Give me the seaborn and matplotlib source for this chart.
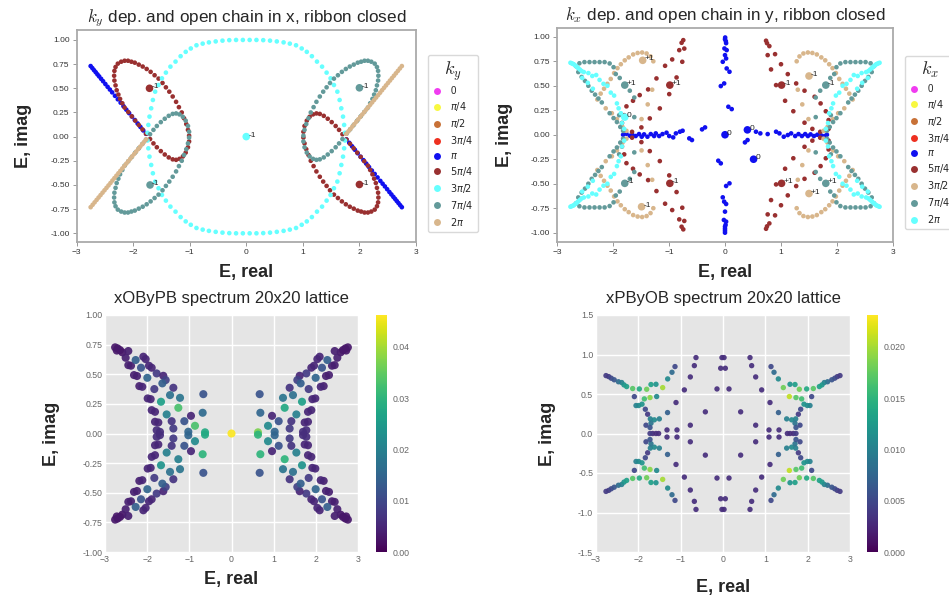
import numpy as np
import pandas as pd
import matplotlib
matplotlib.use("Agg")
import matplotlib.pyplot as plt
from matplotlib.lines import Line2D
from matplotlib.ticker import FormatStrFormatter, MultipleLocator
import seaborn as sns

sns.set_theme(style="white")
plt.rcParams["font.family"] = ["Liberation Sans", "DejaVu Sans"]
plt.rcParams["mathtext.fontset"] = "dejavusans"

# ---------------------------------------------------------------- labels
K_LABELS = ["0", r"$\pi/4$", r"$\pi/2$", r"$3\pi/4$", r"$\pi$",
            r"$5\pi/4$", r"$3\pi/2$", r"$7\pi/4$", r"$2\pi$"]
KY_COLORS = ["#f03cf0", "#f8f840", "#c87137", "#ee3020", "#1010f0",
             "#993030", "#66ffff", "#639a9a", "#d8b68c"]
KX_COLORS = ["#f03cf0", "#f8f840", "#c87137", "#ee3020", "#1010f0",
             "#993030", "#d8b68c", "#639a9a", "#66ffff"]

# ------------------------------------------- ky spectrum, open chain in x
TL_PI = [(-2.75, 0.730), (-2.72, 0.709), (-2.69, 0.687), (-2.66, 0.666), (-2.63, 0.644),
         (-2.60, 0.623), (-2.565, 0.598), (-2.53, 0.573), (-2.49, 0.544), (-2.45, 0.515),
         (-2.41, 0.487), (-2.37, 0.458), (-2.32, 0.422), (-2.27, 0.386), (-2.22, 0.351),
         (-2.17, 0.315), (-2.12, 0.279), (-2.07, 0.243), (-2.02, 0.208), (-1.97, 0.172),
         (-1.92, 0.136), (-1.87, 0.100), (-1.82, 0.064), (-1.77, 0.029),
         (1.77, -0.029), (1.82, -0.064), (1.87, -0.100), (1.92, -0.136), (1.97, -0.172),
         (2.02, -0.208), (2.07, -0.243), (2.12, -0.279), (2.17, -0.315), (2.22, -0.351),
         (2.27, -0.386), (2.32, -0.422), (2.37, -0.458), (2.41, -0.487), (2.45, -0.515),
         (2.49, -0.544), (2.53, -0.573), (2.565, -0.598), (2.60, -0.623), (2.63, -0.644),
         (2.66, -0.666), (2.69, -0.687), (2.72, -0.709), (2.75, -0.730)]

TL_2PI = [(-2.75, -0.730), (-2.715, -0.705), (-2.68, -0.680), (-2.645, -0.655), (-2.61, -0.630),
          (-2.575, -0.605), (-2.54, -0.580), (-2.505, -0.555), (-2.47, -0.530), (-2.435, -0.505),
          (-2.40, -0.480), (-2.365, -0.454), (-2.33, -0.429), (-2.295, -0.404), (-2.26, -0.379),
          (-2.225, -0.354), (-2.19, -0.329), (-2.155, -0.304), (-2.12, -0.279), (-2.085, -0.254),
          (-2.05, -0.229), (-2.015, -0.204), (-1.98, -0.179), (-1.945, -0.154), (-1.91, -0.129),
          (-1.875, -0.104), (-1.84, -0.079), (-1.805, -0.054), (-1.77, -0.029),
          (1.77, 0.029), (1.805, 0.054), (1.84, 0.079), (1.875, 0.104), (1.91, 0.129),
          (1.945, 0.154), (1.98, 0.179), (2.015, 0.204), (2.05, 0.229), (2.085, 0.254),
          (2.12, 0.279), (2.155, 0.304), (2.19, 0.329), (2.225, 0.354), (2.26, 0.379),
          (2.295, 0.404), (2.33, 0.429), (2.365, 0.454), (2.40, 0.480), (2.435, 0.505),
          (2.47, 0.530), (2.505, 0.555), (2.54, 0.580), (2.575, 0.605), (2.61, 0.630),
          (2.645, 0.655), (2.68, 0.680), (2.715, 0.705), (2.75, 0.730)]

TL_5PI4 = [(-1.772, 0.03), (-1.835, 0.075), (-1.898, 0.12), (-1.961, 0.165), (-2.023, 0.21),
           (-2.086, 0.255), (-2.149, 0.30), (-2.19, 0.345), (-2.23, 0.39), (-2.26, 0.435),
           (-2.29, 0.48), (-2.31, 0.53), (-2.33, 0.58), (-2.335, 0.63), (-2.33, 0.68),
           (-2.31, 0.72), (-2.27, 0.755), (-2.21, 0.775), (-2.15, 0.785), (-2.09, 0.785),
           (-2.03, 0.775), (-1.97, 0.765), (-1.90, 0.745), (-1.83, 0.725), (-1.76, 0.70),
           (-1.69, 0.67), (-1.62, 0.635), (-1.55, 0.60), (-1.48, 0.555), (-1.42, 0.51),
           (-1.36, 0.465), (-1.30, 0.415), (-1.24, 0.36), (-1.19, 0.305), (-1.14, 0.25),
           (-1.10, 0.19), (-1.06, 0.13), (-1.03, 0.07), (-1.01, 0.01), (-1.01, -0.05),
           (-1.03, -0.11), (-1.07, -0.165), (-1.12, -0.205), (-1.18, -0.23), (-1.24, -0.24),
           (-1.30, -0.235), (-1.37, -0.215), (-1.44, -0.185), (-1.51, -0.15), (-1.58, -0.11),
           (-1.64, -0.07), (-1.70, -0.025),
           (1.772, -0.03), (1.835, -0.075), (1.898, -0.12), (1.961, -0.165), (2.023, -0.21),
           (2.086, -0.255), (2.149, -0.30), (2.19, -0.345), (2.23, -0.39), (2.26, -0.435),
           (2.29, -0.48), (2.31, -0.53), (2.33, -0.58), (2.335, -0.63), (2.33, -0.68),
           (2.31, -0.72), (2.27, -0.755), (2.21, -0.775), (2.15, -0.785), (2.09, -0.785),
           (2.03, -0.775), (1.97, -0.765), (1.90, -0.745), (1.83, -0.725), (1.76, -0.70),
           (1.69, -0.67), (1.62, -0.635), (1.55, -0.60), (1.48, -0.555), (1.42, -0.51),
           (1.36, -0.465), (1.30, -0.415), (1.24, -0.36), (1.19, -0.305), (1.14, -0.25),
           (1.10, -0.19), (1.06, -0.13), (1.03, -0.07), (1.01, -0.01), (1.01, 0.05),
           (1.03, 0.11), (1.07, 0.165), (1.12, 0.205), (1.18, 0.23), (1.24, 0.24),
           (1.30, 0.235), (1.37, 0.215), (1.44, 0.185), (1.51, 0.15), (1.58, 0.11),
           (1.64, 0.07), (1.70, 0.025)]

TL_7PI4 = [(-1.772, -0.03), (-1.835, -0.075), (-1.898, -0.12), (-1.961, -0.165), (-2.023, -0.21),
           (-2.086, -0.255), (-2.149, -0.30), (-2.19, -0.345), (-2.23, -0.39), (-2.26, -0.435),
           (-2.29, -0.48), (-2.31, -0.53), (-2.33, -0.58), (-2.335, -0.63), (-2.33, -0.68),
           (-2.31, -0.72), (-2.27, -0.755), (-2.21, -0.775), (-2.15, -0.785), (-2.09, -0.785),
           (-2.03, -0.775), (-1.97, -0.765), (-1.90, -0.745), (-1.83, -0.725), (-1.76, -0.70),
           (-1.69, -0.67), (-1.62, -0.635), (-1.55, -0.60), (-1.48, -0.555), (-1.42, -0.51),
           (-1.36, -0.465), (-1.30, -0.415), (-1.24, -0.36), (-1.19, -0.305), (-1.14, -0.25),
           (-1.10, -0.19), (-1.06, -0.13), (-1.03, -0.07), (-1.01, -0.01), (-1.01, 0.05),
           (-1.03, 0.11), (-1.07, 0.165), (-1.12, 0.205), (-1.18, 0.23), (-1.24, 0.24),
           (-1.30, 0.235), (-1.37, 0.215), (-1.44, 0.185), (-1.51, 0.15), (-1.58, 0.11),
           (-1.64, 0.07), (-1.70, 0.025),
           (1.772, 0.03), (1.835, 0.075), (1.898, 0.12), (1.961, 0.165), (2.023, 0.21),
           (2.086, 0.255), (2.149, 0.30), (2.19, 0.345), (2.23, 0.39), (2.26, 0.435),
           (2.29, 0.48), (2.31, 0.53), (2.33, 0.58), (2.335, 0.63), (2.33, 0.68),
           (2.31, 0.72), (2.27, 0.755), (2.21, 0.775), (2.15, 0.785), (2.09, 0.785),
           (2.03, 0.775), (1.97, 0.765), (1.90, 0.745), (1.83, 0.725), (1.76, 0.70),
           (1.69, 0.67), (1.62, 0.635), (1.55, 0.60), (1.48, 0.555), (1.42, 0.51),
           (1.36, 0.465), (1.30, 0.415), (1.24, 0.36), (1.19, 0.305), (1.14, 0.25),
           (1.10, 0.19), (1.06, 0.13), (1.03, 0.07), (1.01, 0.01), (1.01, -0.05),
           (1.03, -0.11), (1.07, -0.165), (1.12, -0.205), (1.18, -0.23), (1.24, -0.24),
           (1.30, -0.235), (1.37, -0.215), (1.44, -0.185), (1.51, -0.15), (1.58, -0.11),
           (1.64, -0.07), (1.70, -0.025)]

TL_3PI2 = [(0.06, 1.0), (0.18, 1.0), (0.30, 0.998), (0.42, 0.993), (0.54, 0.985), (0.66, 0.975),
           (0.77, 0.962), (0.88, 0.945), (0.98, 0.912), (1.07, 0.877), (1.16, 0.832), (1.25, 0.776),
           (1.34, 0.724), (1.42, 0.662), (1.49, 0.603), (1.55, 0.534), (1.61, 0.465), (1.65, 0.379),
           (1.68, 0.293), (1.71, 0.207), (1.73, 0.121), (1.745, 0.04),
           (1.745, -0.04), (1.73, -0.121), (1.71, -0.207), (1.68, -0.293), (1.65, -0.379),
           (1.61, -0.465), (1.55, -0.534), (1.49, -0.603), (1.42, -0.662), (1.34, -0.724),
           (1.25, -0.776), (1.16, -0.832), (1.07, -0.877), (0.98, -0.912), (0.88, -0.945),
           (0.77, -0.962), (0.66, -0.975), (0.54, -0.985), (0.42, -0.993), (0.30, -0.998),
           (0.18, -1.0), (0.06, -1.0),
           (-0.06, -1.0), (-0.18, -1.0), (-0.30, -0.998), (-0.42, -0.993), (-0.54, -0.985),
           (-0.66, -0.975), (-0.77, -0.962), (-0.88, -0.945), (-0.98, -0.912), (-1.07, -0.877),
           (-1.16, -0.832), (-1.25, -0.776), (-1.34, -0.724), (-1.42, -0.662), (-1.49, -0.603),
           (-1.55, -0.534), (-1.61, -0.465), (-1.65, -0.379), (-1.68, -0.293), (-1.71, -0.207),
           (-1.73, -0.121), (-1.745, -0.04),
           (-1.745, 0.04), (-1.73, 0.121), (-1.71, 0.207), (-1.68, 0.293), (-1.65, 0.379),
           (-1.61, 0.465), (-1.55, 0.534), (-1.49, 0.603), (-1.42, 0.662), (-1.34, 0.724),
           (-1.25, 0.776), (-1.16, 0.832), (-1.07, 0.877), (-0.98, 0.912), (-0.88, 0.945),
           (-0.77, 0.962), (-0.66, 0.975), (-0.54, 0.985), (-0.42, 0.993), (-0.30, 0.998),
           (-0.18, 1.0), (-0.06, 1.0)]

# winding-number markers (re, im, k, label)
TL_MARKS = [(-1.71, 0.50, r"$5\pi/4$", "-1"), (-1.70, -0.50, r"$7\pi/4$", "-1"),
            (0.0, 0.0, r"$3\pi/2$", "-1"), (2.0, 0.505, r"$7\pi/4$", "-1"),
            (2.0, -0.495, r"$5\pi/4$", "-1")]

# ------------------------------------------- kx spectrum, open chain in y
TR_PI = [(0.003, 0.993), (0.0, 0.975), (0.015, 0.955), (0.02, 0.935), (-0.01, 0.881),
         (0.03, 0.864), (0.0, 0.813), (0.02, 0.779), (-0.04, 0.745), (0.03, 0.677),
         (0.08, 0.643), (-0.015, 0.524), (-0.075, 0.497), (0.06, 0.286), (0.12, 0.262),
         (0.08, -0.496), (0.02, -0.523), (-0.04, -0.639), (-0.015, -0.683), (0.02, -0.707),
         (0.0, -0.785), (-0.02, -0.870), (0.02, -0.887), (0.01, -0.92), (0.0, -0.938),
         (0.0, -0.96), (0.0, -0.98), (0.0, -1.0), (-0.12, -0.265), (-0.075, -0.292),
         (-1.82, 0.0), (-1.76, 0.01), (-1.70, -0.01), (-1.655, 0.0), (-1.595, -0.013),
         (-1.535, 0.007), (-1.487, -0.02), (-1.445, 0.004), (-1.385, -0.02), (-1.326, 0.007),
         (-1.266, -0.013), (-1.236, 0.014), (-1.176, -0.013), (-1.116, 0.007), (-1.044, 0.021),
         (-0.996, -0.013), (-0.925, -0.027), (-0.877, 0.014), (-0.805, 0.031), (-0.757, 0.041),
         (-0.638, -0.037), (-0.590, -0.054), (-0.41, 0.055), (-0.356, 0.075),
         (0.553, 0.031), (0.631, 0.014), (0.762, 0.007), (0.912, 0.031), (0.972, 0.014),
         (1.049, -0.02), (1.121, -0.003), (1.181, 0.014), (1.253, -0.013), (1.313, 0.007),
         (1.373, -0.013), (1.432, 0.007), (1.480, -0.013), (1.528, 0.004), (1.588, -0.013),
         (1.648, 0.0), (1.719, -0.007), (1.779, -0.013), (1.82, 0.0), (0.356, -0.078),
         (0.403, -0.054)]

TR_5PI4 = [(-0.745, 0.966), (-0.775, 0.939), (-0.727, 0.88), (-0.817, 0.864), (-0.943, 0.769),
           (-1.07, 0.704), (-1.224, 0.575), (-1.373, 0.463), (-1.523, 0.405), (-1.643, 0.347),
           (-1.76, 0.29), (-1.80, 0.20), (-1.84, 0.12), (-0.763, 0.745), (-0.865, 0.585),
           (-0.996, 0.415), (-1.164, 0.269), (-1.343, 0.167), (-1.493, 0.075), (-1.66, 0.03),
           (-0.745, -0.966), (-0.775, -0.939), (-0.727, -0.88), (-0.817, -0.864), (-0.943, -0.769),
           (-1.07, -0.704), (-1.224, -0.575), (-1.373, -0.463), (-1.523, -0.405), (-1.643, -0.347),
           (-1.76, -0.29), (-1.80, -0.20), (-1.84, -0.12), (-0.763, -0.745), (-0.865, -0.585),
           (-0.996, -0.415), (-1.164, -0.269), (-1.343, -0.167), (-1.493, -0.075), (-1.66, -0.03),
           (0.733, 0.96), (0.792, 0.905), (0.894, 0.823), (1.0, 0.72), (1.121, 0.619),
           (1.271, 0.524), (1.42, 0.45), (1.60, 0.388), (1.707, 0.32), (1.80, 0.24),
           (1.85, 0.15), (1.85, 0.06), (0.75, 0.935), (0.762, 0.813), (0.822, 0.667),
           (0.912, 0.507), (1.073, 0.347), (1.22, 0.24), (1.42, 0.123), (1.56, 0.06), (1.70, 0.03),
           (0.733, -0.96), (0.792, -0.905), (0.894, -0.823), (1.0, -0.72), (1.121, -0.619),
           (1.271, -0.524), (1.42, -0.45), (1.60, -0.388), (1.707, -0.32), (1.80, -0.24),
           (1.85, -0.15), (1.85, -0.06), (0.75, -0.935), (0.762, -0.813), (0.822, -0.667),
           (0.912, -0.507), (1.073, -0.347), (1.22, -0.24), (1.42, -0.123), (1.56, -0.06),
           (1.70, -0.03)]

TR_3PI2 = [(-2.28, 0.36), (-2.22, 0.42), (-2.16, 0.47), (-2.10, 0.52), (-2.04, 0.57), (-1.98, 0.63),
           (-1.92, 0.68), (-1.86, 0.72), (-1.79, 0.76), (-1.72, 0.79), (-1.64, 0.82), (-1.56, 0.835),
           (-1.48, 0.84), (-1.40, 0.83), (-1.33, 0.80), (-1.28, 0.75), (-1.30, 0.46), (-1.38, 0.31),
           (-1.49, 0.16), (-2.13, 0.27), (-2.02, 0.22), (-1.93, 0.16), (-1.83, 0.08), (-1.76, 0.04),
           (-2.28, -0.36), (-2.22, -0.42), (-2.16, -0.47), (-2.10, -0.52), (-2.04, -0.57), (-1.98, -0.63),
           (-1.92, -0.68), (-1.86, -0.72), (-1.79, -0.76), (-1.72, -0.79), (-1.64, -0.82), (-1.56, -0.835),
           (-1.48, -0.84), (-1.40, -0.83), (-1.33, -0.80), (-1.28, -0.75), (-1.30, -0.46), (-1.38, -0.31),
           (-1.49, -0.16), (-2.13, -0.27), (-2.02, -0.22), (-1.93, -0.16), (-1.83, -0.08), (-1.76, -0.04),
           (2.28, 0.36), (2.22, 0.42), (2.16, 0.47), (2.10, 0.52), (2.04, 0.57), (1.98, 0.63),
           (1.92, 0.68), (1.86, 0.72), (1.79, 0.76), (1.72, 0.79), (1.64, 0.82), (1.56, 0.835),
           (1.48, 0.84), (1.40, 0.83), (1.33, 0.80), (1.28, 0.75), (1.30, 0.46), (1.38, 0.31),
           (1.49, 0.16), (2.13, 0.27), (2.02, 0.22), (1.93, 0.16), (1.83, 0.08), (1.76, 0.04),
           (2.28, -0.36), (2.22, -0.42), (2.16, -0.47), (2.10, -0.52), (2.04, -0.57), (1.98, -0.63),
           (1.92, -0.68), (1.86, -0.72), (1.79, -0.76), (1.72, -0.79), (1.64, -0.82), (1.56, -0.835),
           (1.48, -0.84), (1.40, -0.83), (1.33, -0.80), (1.28, -0.75), (1.30, -0.46), (1.38, -0.31),
           (1.49, -0.16), (2.13, -0.27), (2.02, -0.22), (1.93, -0.16), (1.83, -0.08), (1.76, -0.04)]

TR_7PI4 = [(-2.66, 0.70), (-2.60, 0.73), (-2.51, 0.742), (-2.42, 0.742), (-2.33, 0.742), (-2.24, 0.742),
           (-2.15, 0.742), (-2.06, 0.728), (-1.99, 0.69), (-1.95, 0.62), (-1.88, 0.58), (-1.70, 0.45),
           (-1.62, 0.38), (-1.62, 0.18), (-2.62, 0.64), (-2.56, 0.59), (-2.50, 0.55), (-2.44, 0.50),
           (-2.38, 0.45), (-2.32, 0.41), (-2.26, 0.37), (-2.20, 0.33), (-2.06, 0.22), (-1.99, 0.17),
           (-1.93, 0.13), (-1.87, 0.08), (-1.82, 0.04), (-1.89, 0.20),
           (-2.66, -0.70), (-2.60, -0.73), (-2.51, -0.742), (-2.42, -0.742), (-2.33, -0.742), (-2.24, -0.742),
           (-2.15, -0.742), (-2.06, -0.728), (-1.99, -0.69), (-1.95, -0.62), (-1.88, -0.58), (-1.70, -0.45),
           (-1.62, -0.38), (-1.62, -0.18), (-2.62, -0.64), (-2.56, -0.59), (-2.50, -0.55), (-2.44, -0.50),
           (-2.38, -0.45), (-2.32, -0.41), (-2.26, -0.37), (-2.20, -0.33), (-2.06, -0.22), (-1.99, -0.17),
           (-1.93, -0.13), (-1.87, -0.08), (-1.82, -0.04), (-1.89, -0.20),
           (2.66, 0.70), (2.60, 0.73), (2.51, 0.742), (2.42, 0.742), (2.33, 0.742), (2.24, 0.742),
           (2.15, 0.742), (2.06, 0.728), (1.99, 0.69), (1.95, 0.62), (1.88, 0.58), (1.70, 0.45),
           (1.62, 0.38), (1.62, 0.18), (2.62, 0.64), (2.56, 0.59), (2.50, 0.55), (2.44, 0.50),
           (2.38, 0.45), (2.32, 0.41), (2.26, 0.37), (2.20, 0.33), (2.06, 0.22), (1.99, 0.17),
           (1.93, 0.13), (1.87, 0.08), (1.82, 0.04), (1.89, 0.20),
           (2.66, -0.70), (2.60, -0.73), (2.51, -0.742), (2.42, -0.742), (2.33, -0.742), (2.24, -0.742),
           (2.15, -0.742), (2.06, -0.728), (1.99, -0.69), (1.95, -0.62), (1.88, -0.58), (1.70, -0.45),
           (1.62, -0.38), (1.62, -0.18), (2.62, -0.64), (2.56, -0.59), (2.50, -0.55), (2.44, -0.50),
           (2.38, -0.45), (2.32, -0.41), (2.26, -0.37), (2.20, -0.33), (2.06, -0.22), (1.99, -0.17),
           (1.93, -0.13), (1.87, -0.08), (1.82, -0.04), (1.89, -0.20)]

TR_2PI = [(-2.76, 0.735), (-2.74, 0.73), (-2.72, 0.725), (-2.70, 0.72), (-2.68, 0.71), (-2.66, 0.70),
          (-2.64, 0.69), (-2.62, 0.68), (-2.59, 0.665), (-2.56, 0.65), (-2.52, 0.64), (-2.44, 0.63),
          (-2.37, 0.60), (-2.30, 0.61), (-2.24, 0.56), (-2.17, 0.52), (-2.10, 0.50), (-2.04, 0.43),
          (-1.98, 0.40), (-1.93, 0.32), (-1.90, 0.27), (-1.86, 0.22), (-1.84, 0.12), (-1.80, 0.06),
          (-2.55, 0.58), (-2.45, 0.53), (-2.36, 0.47),
          (-2.76, -0.735), (-2.74, -0.73), (-2.72, -0.725), (-2.70, -0.72), (-2.68, -0.71), (-2.66, -0.70),
          (-2.64, -0.69), (-2.62, -0.68), (-2.59, -0.665), (-2.56, -0.65), (-2.52, -0.64), (-2.44, -0.63),
          (-2.37, -0.60), (-2.30, -0.61), (-2.24, -0.56), (-2.17, -0.52), (-2.10, -0.50), (-2.04, -0.43),
          (-1.98, -0.40), (-1.93, -0.32), (-1.90, -0.27), (-1.86, -0.22), (-1.84, -0.12), (-1.80, -0.06),
          (-2.55, -0.58), (-2.45, -0.53), (-2.36, -0.47),
          (2.76, 0.735), (2.74, 0.73), (2.72, 0.725), (2.70, 0.72), (2.68, 0.71), (2.66, 0.70),
          (2.64, 0.69), (2.62, 0.68), (2.59, 0.665), (2.56, 0.65), (2.52, 0.64), (2.44, 0.63),
          (2.37, 0.60), (2.30, 0.61), (2.24, 0.56), (2.17, 0.52), (2.10, 0.50), (2.04, 0.43),
          (1.98, 0.40), (1.93, 0.32), (1.90, 0.27), (1.86, 0.22), (1.84, 0.12), (1.80, 0.06),
          (2.55, 0.58), (2.45, 0.53), (2.36, 0.47),
          (2.76, -0.735), (2.74, -0.73), (2.72, -0.725), (2.70, -0.72), (2.68, -0.71), (2.66, -0.70),
          (2.64, -0.69), (2.62, -0.68), (2.59, -0.665), (2.56, -0.65), (2.52, -0.64), (2.44, -0.63),
          (2.37, -0.60), (2.30, -0.61), (2.24, -0.56), (2.17, -0.52), (2.10, -0.50), (2.04, -0.43),
          (1.98, -0.40), (1.93, -0.32), (1.90, -0.27), (1.86, -0.22), (1.84, -0.12), (1.80, -0.06),
          (2.55, -0.58), (2.45, -0.53), (2.36, -0.47)]

TR_MARKS = [(-1.47, 0.76, r"$3\pi/2$", "+1"), (-1.49, -0.735, r"$3\pi/2$", "-1"),
            (1.50, 0.60, r"$3\pi/2$", "-1"), (1.50, -0.60, r"$3\pi/2$", "+1"),
            (-1.79, 0.507, r"$7\pi/4$", "+1"), (-1.79, -0.496, r"$7\pi/4$", "-1"),
            (1.80, 0.507, r"$7\pi/4$", "-1"), (1.80, -0.496, r"$7\pi/4$", "+1"),
            (-0.985, 0.507, r"$5\pi/4$", "+1"), (-0.985, -0.496, r"$5\pi/4$", "-1"),
            (1.01, 0.507, r"$5\pi/4$", "-1"), (1.01, -0.496, r"$5\pi/4$", "+1"),
            (-1.79, 0.18, r"$2\pi$", "0"), (0.0, 0.0, r"$\pi$", "0"),
            (0.40, 0.05, r"$\pi$", "0"), (0.51, -0.25, r"$\pi$", "0")]

# ------------------------------------ 20x20 lattice spectra (re, im, weight)
XOBYPB = [
    (-2.76, 0.727, 0.003), (-2.70, 0.718, 0.003), (-2.644, 0.704, 0.003), (-2.589, 0.685, 0.003),
    (-2.72, 0.70, 0.003), (-2.51, 0.639, 0.004), (-2.447, 0.577, 0.004), (-2.383, 0.572, 0.004),
    (-2.312, 0.493, 0.004), (-2.241, 0.485, 0.004), (-2.186, 0.40, 0.004), (-2.115, 0.394, 0.005),
    (-1.988, 0.296, 0.005), (-1.917, 0.29, 0.005), (-1.893, 0.197, 0.005), (-1.814, 0.183, 0.005),
    (-1.814, 0.099, 0.005), (-1.735, 0.093, 0.005), (-1.775, 0.028, 0.006), (-1.696, 0.014, 0.006),
    (-2.447, 0.696, 0.004), (-2.273, 0.62, 0.014), (-2.091, 0.648, 0.005), (-2.036, 0.628, 0.005),
    (-2.146, 0.555, 0.012), (-1.957, 0.572, 0.005), (-1.893, 0.555, 0.005), (-1.996, 0.47, 0.015),
    (-1.775, 0.507, 0.008), (-1.617, 0.487, 0.005), (-1.561, 0.451, 0.009), (-1.83, 0.375, 0.008),
    (-1.64, 0.423, 0.014), (-1.379, 0.386, 0.007), (-1.458, 0.324, 0.017), (-1.672, 0.268, 0.026),
    (-1.221, 0.301, 0.018), (-1.538, 0.161, 0.020), (-1.261, 0.217, 0.033), (-1.379, 0.042, 0.008),
    (-1.419, 0.104, 0.007), (-1.119, 0.104, 0.012), (-0.961, 0.149, 0.005), (-0.866, 0.065, 0.033),
    (-1.024, 0.015, 0.015), (-0.668, 0.332, 0.012), (-0.684, 0.175, 0.016), (-0.628, 0.010, 0.028),
    (2.76, 0.727, 0.003), (2.70, 0.718, 0.003), (2.644, 0.704, 0.003), (2.589, 0.685, 0.003),
    (2.72, 0.70, 0.003), (2.51, 0.639, 0.004), (2.447, 0.577, 0.004), (2.383, 0.572, 0.004),
    (2.312, 0.493, 0.004), (2.241, 0.485, 0.004), (2.186, 0.40, 0.004), (2.115, 0.394, 0.005),
    (1.988, 0.296, 0.005), (1.917, 0.29, 0.005), (1.893, 0.197, 0.005), (1.814, 0.183, 0.005),
    (1.814, 0.099, 0.005), (1.735, 0.093, 0.005), (1.775, 0.028, 0.006), (1.696, 0.014, 0.006),
    (2.447, 0.696, 0.004), (2.273, 0.62, 0.014), (2.091, 0.648, 0.005), (2.036, 0.628, 0.005),
    (2.146, 0.555, 0.012), (1.957, 0.572, 0.005), (1.893, 0.555, 0.005), (1.996, 0.47, 0.015),
    (1.775, 0.507, 0.008), (1.617, 0.487, 0.005), (1.561, 0.451, 0.009), (1.83, 0.375, 0.008),
    (1.64, 0.423, 0.014), (1.379, 0.386, 0.007), (1.458, 0.324, 0.017), (1.672, 0.268, 0.026),
    (1.221, 0.301, 0.018), (1.538, 0.161, 0.020), (1.261, 0.217, 0.028), (1.379, 0.042, 0.008),
    (1.419, 0.104, 0.007), (1.119, 0.104, 0.012), (0.961, 0.149, 0.005), (0.866, 0.065, 0.022),
    (1.024, 0.015, 0.015), (0.668, 0.332, 0.012), (0.684, 0.175, 0.015), (0.628, 0.010, 0.037),
    (-2.76, -0.727, 0.003), (-2.70, -0.718, 0.003), (-2.644, -0.704, 0.003), (-2.589, -0.685, 0.003),
    (-2.72, -0.70, 0.003), (-2.51, -0.639, 0.004), (-2.447, -0.577, 0.004), (-2.383, -0.572, 0.004),
    (-2.312, -0.493, 0.004), (-2.241, -0.485, 0.004), (-2.186, -0.40, 0.004), (-2.115, -0.394, 0.005),
    (-1.988, -0.296, 0.005), (-1.917, -0.29, 0.005), (-1.893, -0.197, 0.005), (-1.814, -0.183, 0.005),
    (-1.814, -0.099, 0.005), (-1.735, -0.093, 0.005), (-1.775, -0.028, 0.006), (-1.696, -0.014, 0.006),
    (-2.447, -0.696, 0.004), (-2.273, -0.62, 0.014), (-2.091, -0.648, 0.005), (-2.036, -0.628, 0.005),
    (-2.146, -0.555, 0.012), (-1.957, -0.572, 0.005), (-1.893, -0.555, 0.005), (-1.996, -0.47, 0.015),
    (-1.775, -0.507, 0.008), (-1.617, -0.487, 0.005), (-1.561, -0.451, 0.009), (-1.83, -0.375, 0.008),
    (-1.64, -0.423, 0.014), (-1.379, -0.386, 0.007), (-1.458, -0.324, 0.017), (-1.672, -0.268, 0.024),
    (-1.221, -0.301, 0.018), (-1.538, -0.161, 0.020), (-1.261, -0.217, 0.020), (-1.379, -0.042, 0.008),
    (-1.419, -0.104, 0.007), (-1.119, -0.104, 0.012), (-0.961, -0.149, 0.005), (-0.866, -0.065, 0.022),
    (-1.024, -0.015, 0.015), (-0.668, -0.332, 0.012), (-0.684, -0.175, 0.030), (-0.628, -0.010, 0.028),
    (2.76, -0.727, 0.003), (2.70, -0.718, 0.003), (2.644, -0.704, 0.003), (2.589, -0.685, 0.003),
    (2.72, -0.70, 0.003), (2.51, -0.639, 0.004), (2.447, -0.577, 0.004), (2.383, -0.572, 0.004),
    (2.312, -0.493, 0.004), (2.241, -0.485, 0.004), (2.186, -0.40, 0.004), (2.115, -0.394, 0.005),
    (1.988, -0.296, 0.005), (1.917, -0.29, 0.005), (1.893, -0.197, 0.005), (1.814, -0.183, 0.005),
    (1.814, -0.099, 0.005), (1.735, -0.093, 0.005), (1.775, -0.028, 0.006), (1.696, -0.014, 0.006),
    (2.447, -0.696, 0.004), (2.273, -0.62, 0.014), (2.091, -0.648, 0.005), (2.036, -0.628, 0.005),
    (2.146, -0.555, 0.012), (1.957, -0.572, 0.005), (1.893, -0.555, 0.005), (1.996, -0.47, 0.015),
    (1.775, -0.507, 0.008), (1.617, -0.487, 0.005), (1.561, -0.451, 0.009), (1.83, -0.375, 0.008),
    (1.64, -0.423, 0.014), (1.379, -0.386, 0.007), (1.458, -0.324, 0.017), (1.672, -0.268, 0.024),
    (1.221, -0.301, 0.018), (1.538, -0.161, 0.020), (1.261, -0.217, 0.030), (1.379, -0.042, 0.008),
    (1.419, -0.104, 0.007), (1.119, -0.104, 0.012), (0.961, -0.149, 0.005), (0.866, -0.065, 0.022),
    (1.024, -0.015, 0.015), (0.668, -0.332, 0.012), (0.684, -0.175, 0.030), (0.628, -0.010, 0.030),
    (0.0, 0.0, 0.046)]

XPBYOB = [
    (-0.638, 0.961, 0.003), (-0.677, 0.859, 0.003), (-0.025, 0.961, 0.003), (-0.055, 0.826, 0.003),
    (-1.134, 0.847, 0.005), (-1.205, 0.775, 0.008), (-0.772, 0.716, 0.003), (-1.307, 0.691, 0.011),
    (-0.913, 0.552, 0.003), (-0.142, 0.564, 0.003), (-1.11, 0.392, 0.003), (-0.417, 0.274, 0.003),
    (-0.772, 0.105, 0.003), (-1.31, 0.265, 0.007), (-1.087, 0.045, 0.003), (-1.323, 0.045, 0.003),
    (-2.764, 0.733, 0.004), (-2.70, 0.72, 0.004), (-2.64, 0.70, 0.005), (-2.57, 0.68, 0.006),
    (-2.47, 0.655, 0.008), (-2.393, 0.645, 0.010), (-2.338, 0.615, 0.012), (-2.276, 0.594, 0.013),
    (-2.134, 0.569, 0.017), (-2.094, 0.467, 0.005), (-1.976, 0.564, 0.014), (-1.803, 0.56, 0.018),
    (-1.701, 0.62, 0.013), (-1.583, 0.623, 0.012), (-1.425, 0.581, 0.020), (-1.858, 0.438, 0.016),
    (-1.724, 0.455, 0.019), (-1.567, 0.468, 0.011), (-2.055, 0.354, 0.010), (-1.992, 0.354, 0.011),
    (-1.913, 0.371, 0.012), (-1.835, 0.307, 0.005), (-1.78, 0.244, 0.004), (-1.717, 0.185, 0.010),
    (-1.622, 0.173, 0.011), (-1.819, 0.105, 0.005), (-1.701, 0.13, 0.009), (-1.724, 0.076, 0.006),
    (-1.504, 0.185, 0.010),
    (0.638, 0.961, 0.003), (0.677, 0.859, 0.003), (0.025, 0.961, 0.003), (0.055, 0.826, 0.003),
    (1.134, 0.847, 0.005), (1.205, 0.775, 0.008), (0.772, 0.716, 0.003), (1.307, 0.691, 0.011),
    (0.913, 0.552, 0.003), (0.142, 0.564, 0.003), (1.11, 0.392, 0.003), (0.417, 0.274, 0.003),
    (0.772, 0.105, 0.003), (1.31, 0.265, 0.007), (1.087, 0.045, 0.003), (1.323, 0.045, 0.003),
    (2.764, 0.733, 0.004), (2.70, 0.72, 0.004), (2.64, 0.70, 0.005), (2.57, 0.68, 0.006),
    (2.47, 0.655, 0.008), (2.393, 0.645, 0.010), (2.338, 0.615, 0.012), (2.276, 0.594, 0.013),
    (2.134, 0.569, 0.017), (2.094, 0.467, 0.005), (1.976, 0.564, 0.014), (1.803, 0.56, 0.018),
    (1.701, 0.62, 0.013), (1.583, 0.623, 0.012), (1.425, 0.581, 0.018), (1.858, 0.438, 0.016),
    (1.724, 0.455, 0.017), (1.567, 0.468, 0.021), (2.055, 0.354, 0.010), (1.992, 0.354, 0.011),
    (1.913, 0.371, 0.012), (1.835, 0.307, 0.005), (1.78, 0.244, 0.004), (1.717, 0.185, 0.010),
    (1.622, 0.173, 0.011), (1.819, 0.105, 0.005), (1.701, 0.13, 0.009), (1.724, 0.076, 0.006),
    (1.504, 0.185, 0.010),
    (-0.638, -0.961, 0.003), (-0.677, -0.859, 0.003), (-0.025, -0.961, 0.003), (-0.055, -0.826, 0.003),
    (-1.134, -0.847, 0.005), (-1.205, -0.775, 0.008), (-0.772, -0.716, 0.003), (-1.307, -0.691, 0.011),
    (-0.913, -0.552, 0.003), (-0.142, -0.564, 0.003), (-1.11, -0.392, 0.003), (-0.417, -0.274, 0.003),
    (-0.772, -0.105, 0.003), (-1.31, -0.265, 0.007), (-1.087, -0.045, 0.003), (-1.323, -0.045, 0.003),
    (-2.764, -0.733, 0.004), (-2.70, -0.72, 0.004), (-2.64, -0.70, 0.005), (-2.57, -0.68, 0.006),
    (-2.47, -0.655, 0.008), (-2.393, -0.645, 0.010), (-2.338, -0.615, 0.012), (-2.276, -0.594, 0.013),
    (-2.134, -0.569, 0.017), (-2.094, -0.467, 0.005), (-1.976, -0.564, 0.014), (-1.803, -0.56, 0.018),
    (-1.701, -0.62, 0.013), (-1.583, -0.623, 0.012), (-1.425, -0.581, 0.020), (-1.858, -0.438, 0.016),
    (-1.724, -0.455, 0.019), (-1.567, -0.468, 0.011), (-2.055, -0.354, 0.010), (-1.992, -0.354, 0.011),
    (-1.913, -0.371, 0.012), (-1.835, -0.307, 0.005), (-1.78, -0.244, 0.004), (-1.717, -0.185, 0.010),
    (-1.622, -0.173, 0.011), (-1.819, -0.105, 0.005), (-1.701, -0.13, 0.009), (-1.724, -0.076, 0.006),
    (-1.504, -0.185, 0.010),
    (0.638, -0.961, 0.003), (0.677, -0.859, 0.003), (0.025, -0.961, 0.003), (0.055, -0.826, 0.003),
    (1.134, -0.847, 0.005), (1.205, -0.775, 0.008), (0.772, -0.716, 0.003), (1.307, -0.691, 0.011),
    (0.913, -0.552, 0.003), (0.142, -0.564, 0.003), (1.11, -0.392, 0.003), (0.417, -0.274, 0.003),
    (0.772, -0.105, 0.003), (1.31, -0.265, 0.007), (1.087, -0.045, 0.003), (1.323, -0.045, 0.003),
    (2.764, -0.733, 0.004), (2.70, -0.72, 0.004), (2.64, -0.70, 0.005), (2.57, -0.68, 0.006),
    (2.47, -0.655, 0.008), (2.393, -0.645, 0.010), (2.338, -0.615, 0.012), (2.276, -0.594, 0.013),
    (2.134, -0.569, 0.017), (2.094, -0.467, 0.005), (1.976, -0.564, 0.014), (1.803, -0.56, 0.018),
    (1.701, -0.62, 0.013), (1.583, -0.623, 0.012), (1.425, -0.581, 0.018), (1.858, -0.438, 0.016),
    (1.724, -0.455, 0.017), (1.567, -0.468, 0.021), (2.055, -0.354, 0.010), (1.992, -0.354, 0.011),
    (1.913, -0.371, 0.012), (1.835, -0.307, 0.005), (1.78, -0.244, 0.004), (1.717, -0.185, 0.010),
    (1.622, -0.173, 0.011), (1.819, -0.105, 0.005), (1.701, -0.13, 0.009), (1.724, -0.076, 0.006),
    (1.504, -0.185, 0.010),
    (-1.52, 0.0, 0.003), (-1.583, 0.0, 0.003), (-1.661, 0.0, 0.003), (-1.724, 0.0, 0.004),
    (1.52, 0.0, 0.003), (1.583, 0.0, 0.003), (1.661, 0.0, 0.003), (1.724, 0.0, 0.004)]


def series_frame(series):
    rows = [(re, im, label) for label, pts in series for re, im in pts]
    return pd.DataFrame(rows, columns=["re", "im", "k"])


def top_panel(ax, series, marks, colors, title, legend_title, ylim):
    palette = dict(zip(K_LABELS, colors))
    df = series_frame(series)
    sns.scatterplot(data=df, x="re", y="im", hue="k", hue_order=K_LABELS,
                    palette=palette, s=11, linewidth=0, legend=False, ax=ax)
    mk = pd.DataFrame(marks, columns=["re", "im", "k", "txt"])
    sns.scatterplot(data=mk, x="re", y="im", hue="k", hue_order=K_LABELS,
                    palette=palette, s=30, linewidth=0, legend=False, ax=ax)
    for re, im, _, txt in marks:
        ax.text(re + 0.035, im + 0.015, txt, fontsize=6, color="#222222",
                ha="left", va="center")
    ax.set_xlim(-3, 3)
    ax.set_ylim(*ylim)
    ax.xaxis.set_major_locator(MultipleLocator(1))
    ax.yaxis.set_major_locator(MultipleLocator(0.25))
    ax.yaxis.set_major_formatter(FormatStrFormatter("%.2f"))
    ax.tick_params(labelsize=6, labelcolor="#333333", length=3, width=0.6,
                   color="#888888", pad=2, left=True, bottom=True)
    for sp in ax.spines.values():
        sp.set_color("#aaaaaa")
        sp.set_linewidth(1.3)
    ax.set_xlabel("E, real", fontsize=13, fontweight="bold", labelpad=6)
    ax.set_ylabel("E, imag", fontsize=13, fontweight="bold", labelpad=13)
    t = ax.set_title(title, fontsize=12.3, pad=6)
    t.set_math_fontfamily("cm")
    handles = [Line2D([], [], ls="", marker="o", markersize=5, markeredgewidth=0,
                      color=palette[k]) for k in K_LABELS]
    leg = ax.legend(handles, K_LABELS, title=legend_title, loc="center left",
                    bbox_to_anchor=(1.02, 0.465), fontsize=7, title_fontsize=13,
                    handlelength=1.0, handletextpad=0.9, labelspacing=0.4,
                    borderpad=0.45, frameon=True, edgecolor="#d0d0d0")
    leg.get_title().set_math_fontfamily("cm")


def lattice_panel(fig, ax, cax, pts, vmax, ticks, fmt, size, title, ylim, ystep, xpad, ypad):
    df = pd.DataFrame(pts, columns=["re", "im", "w"])
    ax.set_facecolor("#E5E5E5")
    ax.set_axisbelow(True)
    ax.grid(True, color="white", linewidth=1.0)
    sns.scatterplot(data=df, x="re", y="im", hue="w", palette="viridis",
                    hue_norm=(0, vmax), s=size, linewidth=0, alpha=0.92,
                    legend=False, ax=ax)
    ax.set_xlim(-3, 3)
    ax.set_ylim(*ylim)
    ax.xaxis.set_major_locator(MultipleLocator(1))
    ax.yaxis.set_major_locator(MultipleLocator(ystep))
    for sp in ax.spines.values():
        sp.set_visible(False)
    ax.tick_params(length=0, labelsize=6.3, labelcolor="#666666", pad=2)
    ax.set_xlabel("E, real", fontsize=13, fontweight="bold", labelpad=xpad)
    ax.set_ylabel("E, imag", fontsize=13, fontweight="bold", labelpad=ypad)
    ax.set_title(title, fontsize=12, pad=9)
    sm = matplotlib.cm.ScalarMappable(norm=matplotlib.colors.Normalize(0, vmax), cmap="viridis")
    cb = fig.colorbar(sm, cax=cax, ticks=ticks)
    cb.outline.set_visible(False)
    cax.yaxis.set_major_formatter(FormatStrFormatter(fmt))
    cax.tick_params(length=0, labelsize=6.3, labelcolor="#666666", pad=4)


W, H = 949, 603
fig = plt.figure(figsize=(W / 100, H / 100), dpi=100)
fig.patch.set_facecolor("white")


def box(l, t, r, b):
    return [l / W, (H - b) / H, (r - l) / W, (b - t) / H]


ax_tl = fig.add_axes(box(76.5, 30, 416, 242))
ax_tr = fig.add_axes(box(557, 28, 893, 242))
ax_bl = fig.add_axes(box(105, 315, 358, 552))
cax_bl = fig.add_axes(box(376, 315, 387, 552))
ax_br = fig.add_axes(box(596, 315, 850, 552))
cax_br = fig.add_axes(box(867, 315, 878, 552))

top_panel(ax_tl,
          [(r"$\pi$", TL_PI), (r"$5\pi/4$", TL_5PI4), (r"$3\pi/2$", TL_3PI2),
           (r"$7\pi/4$", TL_7PI4), (r"$2\pi$", TL_2PI)],
          TL_MARKS, KY_COLORS, r"$k_y$ dep. and open chain in x, ribbon closed",
          r"$k_y$", (-1.09, 1.103))
top_panel(ax_tr,
          [(r"$\pi$", TR_PI), (r"$5\pi/4$", TR_5PI4), (r"$3\pi/2$", TR_3PI2),
           (r"$7\pi/4$", TR_7PI4), (r"$2\pi$", TR_2PI)],
          TR_MARKS, KX_COLORS, r"$k_x$ dep. and open chain in y, ribbon closed",
          r"$k_x$", (-1.095, 1.09))

lattice_panel(fig, ax_bl, cax_bl, XOBYPB, 0.0462, [0, 0.01, 0.02, 0.03, 0.04], "%.2f", 34,
              "xOByPB spectrum 20x20 lattice", (-1.0, 1.0), 0.25, 5, 16)
ax_bl.yaxis.set_major_formatter(FormatStrFormatter("%.2f"))
lattice_panel(fig, ax_br, cax_br, XPBYOB, 0.0231, [0, 0.005, 0.01, 0.015, 0.02], "%.3f", 15,
              "xPByOB spectrum 20x20 lattice", (-1.5, 1.5), 0.5, 11, 16)
ax_br.yaxis.set_major_formatter(FormatStrFormatter("%.1f"))

fig.savefig("out.png", dpi=100)
